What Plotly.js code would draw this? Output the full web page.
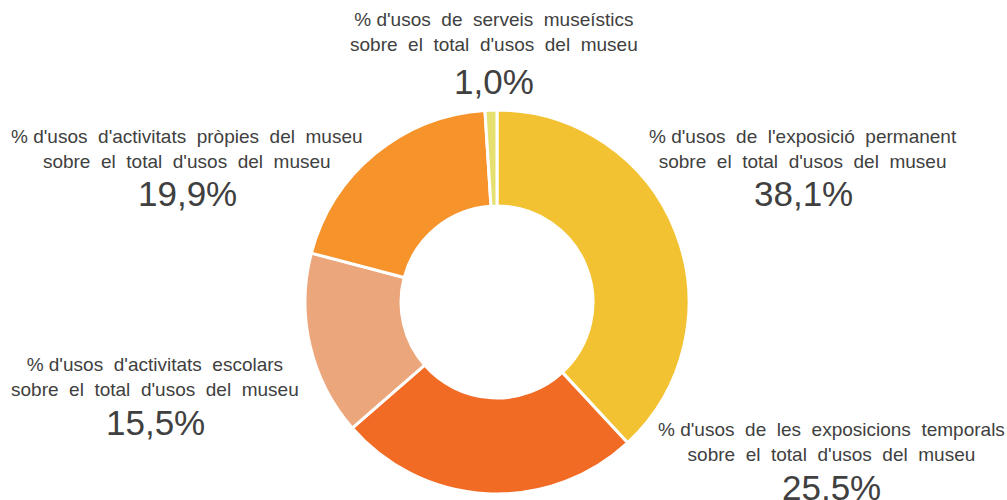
<!DOCTYPE html>
<html>
<head>
<meta charset="utf-8">
<script src="https://cdn.plot.ly/plotly-3.0.1.min.js"></script>
<style>html,body{margin:0;padding:0;background:#fff}#chart{width:1007px;height:500px}</style>
</head>
<body>
<div id="chart"></div>
<script>
const categories = [
  "% d'usos de l'exposició permanent<br>sobre el total d'usos del museu",
  "% d'usos de les exposicions temporals<br>sobre el total d'usos del museu",
  "% d'usos d'activitats escolars<br>sobre el total d'usos del museu",
  "% d'usos d'activitats pròpies del museu<br>sobre el total d'usos del museu",
  "% d'usos de serveis museístics<br>sobre el total d'usos del museu"
];
const values = [38.1, 25.5, 15.5, 19.9, 1.0];
const percentLabels = ["38,1%", "25,5%", "15,5%", "19,9%", "1,0%"];
const colors = ["#F2C233", "#F26B25", "#ECA67C", "#F7932B", "#E6E070"];

// widen word spacing like the reference (keep "% d'usos" tight)
function widen(t) {
  return t.split('<br>').map(line => {
    const words = line.split(' ');
    let out = words[0];
    for (let k = 1; k < words.length; k++) {
      out += (words[k - 1] === '%') ? ' ' + words[k] : ' \u00A0' + words[k];
    }
    return out;
  }).join('<br>');
}

// label anchor positions in paper coords
const labelPos = [
  {x: 803/1007, y: 1 - 124/500, py: 1 - 172/500},
  {x: 831/1007, y: 1 - 417/500, py: 1 - 466/500},
  {x: 155/1007, y: 1 - 352/500, py: 1 - 401/500},
  {x: 187/1007, y: 1 - 124/500, py: 1 - 172/500},
  {x: 494/1007, y: 1 - 7/500, py: 1 - 60/500}
];

const annotations = [];
categories.forEach((c, i) => {
  annotations.push({
    text: widen(c), x: labelPos[i].x, y: labelPos[i].y, xref: 'paper', yref: 'paper',
    xanchor: 'center', yanchor: 'top', showarrow: false, align: 'center',
    font: {family: 'Liberation Sans, Arial, sans-serif', size: 19, color: '#404040'}
  });
  annotations.push({
    text: percentLabels[i], x: labelPos[i].x, y: labelPos[i].py, xref: 'paper', yref: 'paper',
    xanchor: 'center', yanchor: 'top', showarrow: false,
    font: {family: 'Liberation Sans, Arial, sans-serif', size: 35, color: '#404040'}
  });
});

const data = [{
  type: 'pie',
  labels: categories,
  values: values,
  hole: 0.5,
  sort: false,
  direction: 'clockwise',
  rotation: 0,
  textinfo: 'none',
  hoverinfo: 'label+percent',
  marker: {colors: colors, line: {color: '#ffffff', width: 3}},
  domain: {x: [0.3029, 0.6842], y: [0.012, 0.78]},
  showlegend: false
}];

const layout = {
  width: 1007, height: 500,
  margin: {l: 0, r: 0, t: 0, b: 0},
  paper_bgcolor: '#ffffff',
  showlegend: false,
  annotations: annotations
};

Plotly.newPlot('chart', data, layout, {displayModeBar: false, staticPlot: true});
</script>
</body>
</html>
